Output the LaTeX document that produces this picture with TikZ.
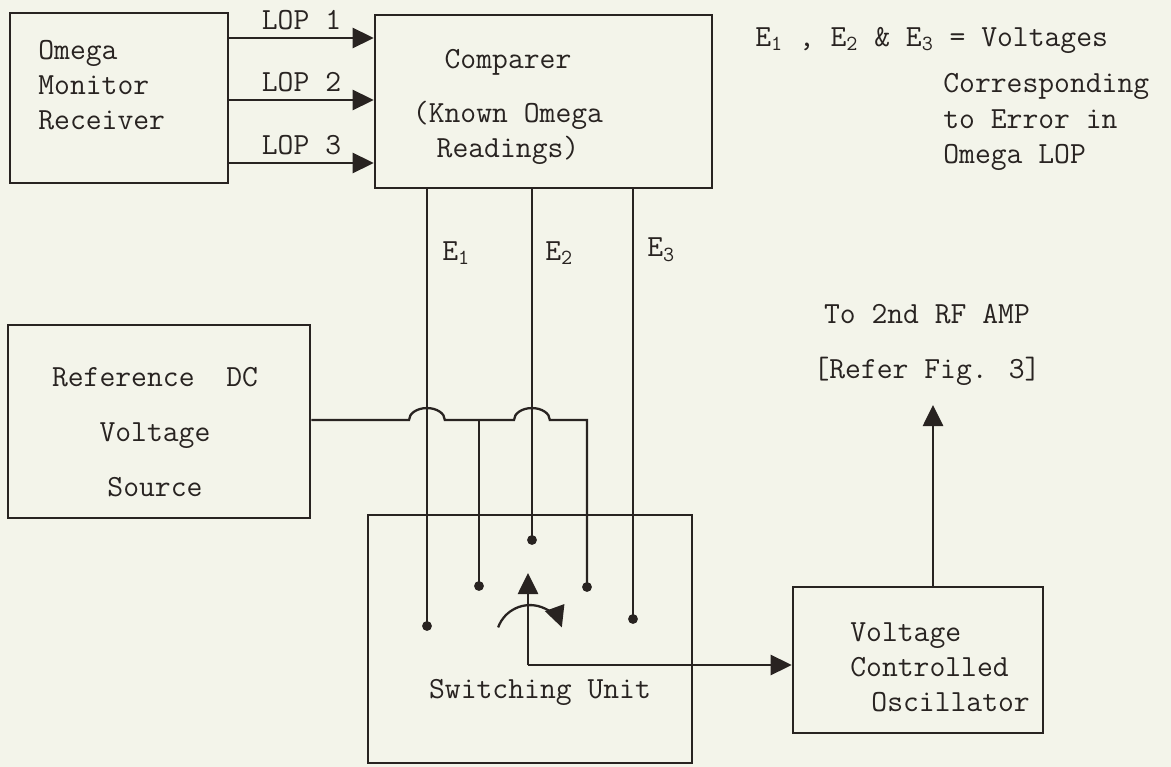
\documentclass[tikz,border=0pt]{standalone}
\usepackage{fontspec}
\usetikzlibrary{arrows.meta,fit}

\definecolor{paper}{RGB}{243,244,234}
\definecolor{ink}{RGB}{40,35,33}

\tikzset{
  box/.style={draw=ink, line width=1.5pt, inner sep=0pt},
  txt/.style={text=ink, font=\ttfamily\fontsize{17.5}{20}\selectfont, inner sep=0pt},
  wire/.style={draw=ink, line width=1.3pt},
  sig/.style={wire, -{Triangle[length=12pt,width=11.5pt]}},
  contact/.style={fill=ink}
}

\begin{document}
\begin{tikzpicture}[x=0.02cm, y=-0.02cm]
      \fill[paper] (0,0) rectangle (1171,767);
      \useasboundingbox (0,0) rectangle (1171,767);

      % boxes
      \node[box, fit={(10,13) (228,183)}] (omega) {};
      \node[box, fit={(375,15) (712,188)}] (comparer) {};
      \node[box, fit={(8,325) (310,518)}] (ref) {};
      \node[box, fit={(368,515) (692,763)}] (switch) {};
      \node[box, fit={(793,587) (1043,733)}] (vco) {};

      % box texts
      \node[txt, anchor=west, align=left] (omegatext) at (38,85) {Omega\\Monitor\\Receiver};
      \node[txt, align=center] (comptext) at (508,107) {Comparer\\[11pt](Known Omega\\Readings)};
      \node[txt, align=center] (reftext) at (155,432) {Reference\ \ DC\\[11.3pt]Voltage\\[11.3pt]Source};
      \node[txt] (switchtext) at (540,692) {Switching Unit};
      \node[txt, anchor=west, align=left] (vcotext) at (850,667) {Voltage\\Controlled\\\hspace*{12pt}Oscillator};
      \node[txt, align=center] (rftext) at (927,345) {To 2nd RF AMP\\[11.3pt]{[Refer Fig. 3]}};

      % legend
      \node[txt, anchor=west] (legendtop) at (755,40)
        {E\textsubscript{1} , E\textsubscript{2} \& E\textsubscript{3} = Voltages};
      \node[txt, anchor=west, align=left] (legendrest) at (943,122)
        {Corresponding\\to Error in\\Omega LOP};

      % switch contacts
      \coordinate (e1) at (427,626);
      \coordinate (r1) at (479,586);
      \coordinate (e2) at (532,540);
      \coordinate (r2) at (587,587);
      \coordinate (e3) at (633,619);
      \coordinate (hub) at (530,639);
      \coordinate (pivot) at (528,665);
      \coordinate (wiper) at (528,573);
      \coordinate (rfout) at (933,405);

      % LOP lines
      \foreach \y/\n in {38/1, 100/2, 163/3}
      \draw[sig] (omega.east |- 0,\y) -- node[txt, above=4pt] (lop\n) {LOP \n} (comparer.west |- 0,\y);

      % error voltages
      \foreach \e in {1, 2, 3}
      \draw[wire] (comparer.south -| e\e) -- (e\e);
      \node[txt, anchor=west] (elabel1) at (442,253) {E\textsubscript{1}};
      \node[txt, anchor=west] (elabel2) at (545,253) {E\textsubscript{2}};
      \node[txt, anchor=west] (elabel3) at (647,250) {E\textsubscript{3}};

      % reference line, hopping over E1 and E2
      \draw[wire] (ref.east |- 0,420) -- (409,420)
        arc[start angle=180, end angle=0, x radius=10.2pt, y radius=6.8pt] -- (514,420)
        arc[start angle=180, end angle=0, x radius=10.2pt, y radius=6.8pt] -- (r2 |- 0,420) -- (r2);
      \draw[wire] (r1 |- 0,420) -- (r1);

      % contact dots
      \foreach \c in {e1, e2, e3, r1, r2}
      \fill[contact] (\c) circle (2.8pt);

      % wiper
      \draw[sig] (pivot) -- (wiper);
      \draw[sig] ([shift={(160:19.3pt)}]hub) arc[start angle=160, end angle=20, radius=19.3pt];
      \draw[sig] (pivot) -- (vco.west |- pivot);

      % output
      \draw[sig] (vco.north -| rfout) -- (rfout);
\end{tikzpicture}
\end{document}
